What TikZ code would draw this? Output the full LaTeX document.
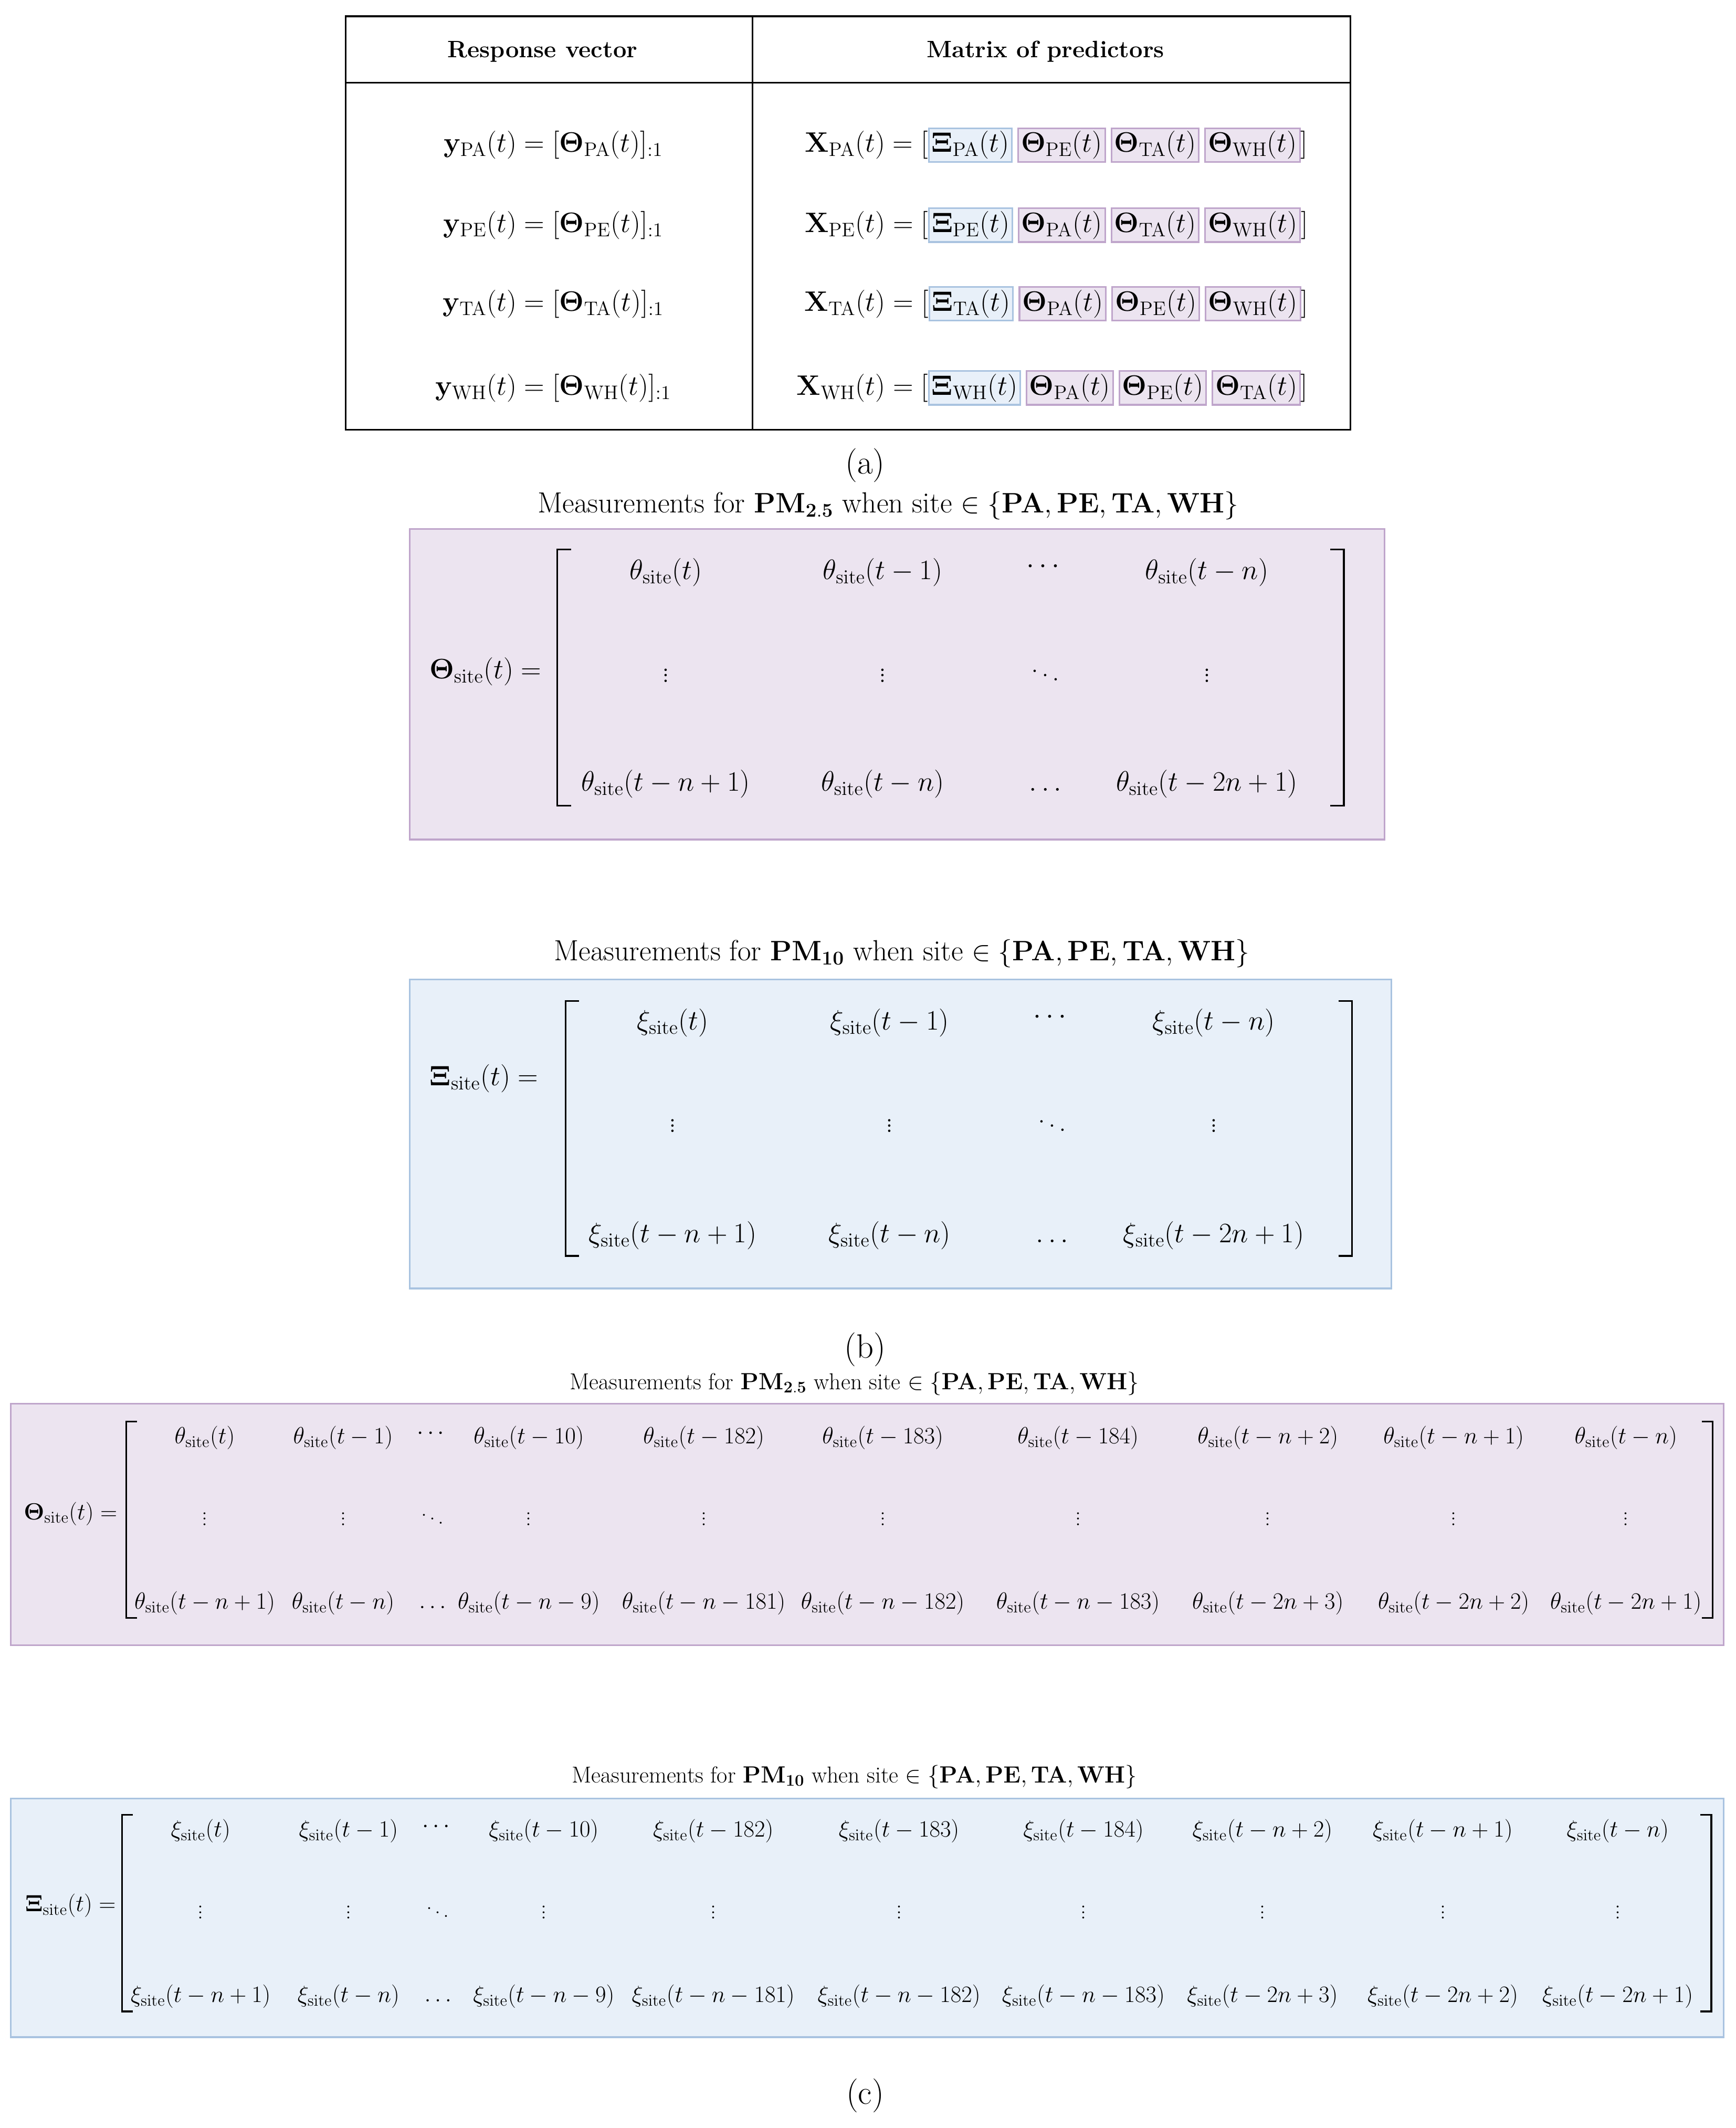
\documentclass[tikz,border=0pt]{standalone}
\usepackage{amsmath,amssymb}
\usetikzlibrary{positioning}
\definecolor{lavfill}{HTML}{ECE4F0}
\definecolor{lavline}{HTML}{BFA5CB}
\definecolor{bluefill}{HTML}{E8F0F9}
\definecolor{blueline}{HTML}{A9C3E0}
\newcommand{\pbox}[1]{\fcolorbox{lavline}{lavfill}{$#1$}}
\newcommand{\bbox}[1]{\fcolorbox{blueline}{bluefill}{$#1$}}
\newcommand{\Th}[1]{\mathbf{\Theta}_{\mathrm{#1}}(t)}
\newcommand{\Xs}[1]{\mathbf{\Xi}_{\mathrm{#1}}(t)}
\newcommand{\sitelist}{\{\mathbf{PA},\mathbf{PE},\mathbf{TA},\mathbf{WH}\}}
\tikzset{
  big/.style={font=\fontsize{21}{24}\selectfont, inner sep=0pt},
  mid/.style={font=\fontsize{21.5}{25}\selectfont, inner sep=0pt},
  small/.style={font=\fontsize{17}{20}\selectfont, inner sep=0pt},
  lavbox/.style={fill=lavfill, draw=lavline, line width=1.2pt},
  bluebox/.style={fill=bluefill, draw=blueline, line width=1.2pt},
  brack/.style={line width=1.3pt}
}
\begin{document}
\begin{tikzpicture}[x=1pt, y=-1pt]
\useasboundingbox (0,0) rectangle (1280,1569);
\setlength{\fboxsep}{1.5pt}\setlength{\fboxrule}{1.2pt}

% (a) table
\draw[line width=1.2pt] (255,12) rectangle (996,317);
\draw[line width=1.2pt] (255,61) -- (996,61);
\draw[line width=1.2pt] (555,12) -- (555,317);
\node[big, font=\fontsize{17.5}{20}\selectfont\bfseries] (hresp) at (400,38) {Response vector};
\node[big, font=\fontsize{17.5}{20}\selectfont\bfseries] (hpred) at (771,38) {Matrix of predictors};
\foreach \s/\yy in {PA/107, PE/166, TA/224, WH/286}
  \node[big] (y\s) at (408,\yy) {$\mathbf{y}_{\mathrm{\s}}(t)=[\Th{\s}]_{:1}$};
\node[big] (xPA) at (779,107) {$\mathbf{X}_{\mathrm{PA}}(t)=[\bbox{\Xs{PA}}\,\pbox{\Th{PE}}\,\pbox{\Th{TA}}\,\pbox{\Th{WH}}]$};
\node[big] (xPE) at (779,166) {$\mathbf{X}_{\mathrm{PE}}(t)=[\bbox{\Xs{PE}}\,\pbox{\Th{PA}}\,\pbox{\Th{TA}}\,\pbox{\Th{WH}}]$};
\node[big] (xTA) at (779,224) {$\mathbf{X}_{\mathrm{TA}}(t)=[\bbox{\Xs{TA}}\,\pbox{\Th{PA}}\,\pbox{\Th{PE}}\,\pbox{\Th{WH}}]$};
\node[big] (xWH) at (776,286) {$\mathbf{X}_{\mathrm{WH}}(t)=[\bbox{\Xs{WH}}\,\pbox{\Th{PA}}\,\pbox{\Th{PE}}\,\pbox{\Th{TA}}]$};
\node[mid, font=\fontsize{25}{28}\selectfont] (capa) at (638,343) {(a)};

% (b) theta
\node[mid] (tb1) at (655,373) {Measurements for $\mathbf{PM_{2.5}}$ when site $\in\sitelist$};
\draw[lavbox] (302,390) rectangle (1021,619);
\node[mid] (lb1) at (358,495) {$\mathbf{\Theta}_{\mathrm{site}}(t)=$};
\draw[brack] (421,405) -- (411,405) -- (411,594) -- (421,594);
\draw[brack] (981,405) -- (991,405) -- (991,594) -- (981,594);
\foreach \x/\a/\b in {491/t/t-n+1, 651/t-1/t-n, 890/t-n/t-2n+1} {
  \node[mid] at (\x,422) {$\theta_{\mathrm{site}}(\a)$};
  \node[mid] at (\x,495) {$\vdots$};
  \node[mid] at (\x,578) {$\theta_{\mathrm{site}}(\b)$};
}
\node[mid] at (771,418) {$\cdots$};
\node[mid] at (771,495) {$\ddots$};
\node[mid] at (771,582) {$\ldots$};

% (b) xi
\node[mid] (tb2) at (665,703) {Measurements for $\mathbf{PM_{10}}$ when site $\in\sitelist$};
\draw[bluebox] (302,722) rectangle (1026,950);
\node[mid] (lb2) at (357,795) {$\mathbf{\Xi}_{\mathrm{site}}(t)=$};
\draw[brack] (427,738) -- (417,738) -- (417,926) -- (427,926);
\draw[brack] (987,738) -- (997,738) -- (997,926) -- (987,926);
\foreach \x/\a/\b in {496/t/t-n+1, 656/t-1/t-n, 895/t-n/t-2n+1} {
  \node[mid] at (\x,754) {$\xi_{\mathrm{site}}(\a)$};
  \node[mid] at (\x,827) {$\vdots$};
  \node[mid] at (\x,911) {$\xi_{\mathrm{site}}(\b)$};
}
\node[mid] at (776,750) {$\cdots$};
\node[mid] at (776,827) {$\ddots$};
\node[mid] at (776,915) {$\ldots$};
\node[mid, font=\fontsize{25}{28}\selectfont] (capb) at (638,995) {(b)};

% (c) theta
\node[small] (tc1) at (630,1020) {Measurements for $\mathbf{PM_{2.5}}$ when site $\in\sitelist$};
\draw[lavbox] (8,1035) rectangle (1271,1213);
\node[small] (lc1) at (52,1116) {$\mathbf{\Theta}_{\mathrm{site}}(t)=$};
\draw[brack] (101,1048) -- (93,1048) -- (93,1193) -- (101,1193);
\draw[brack] (1255,1048) -- (1263,1048) -- (1263,1193) -- (1255,1193);
\foreach \x/\a/\b in {151/t/t-n+1, 253/t-1/t-n, 390/t-10/t-n-9, 519/t-182/t-n-181,
  651/t-183/t-n-182, 795/t-184/t-n-183, 935/t-n+2/t-2n+3, 1072/t-n+1/t-2n+2, 1199/t-n/t-2n+1} {
  \node[small] at (\x,1060) {$\theta_{\mathrm{site}}(\a)$};
  \node[small] at (\x,1117) {$\vdots$};
  \node[small] at (\x,1182) {$\theta_{\mathrm{site}}(\b)$};
}
\node[small] at (319,1057) {$\cdots$};
\node[small] at (319,1117) {$\ddots$};
\node[small] at (319,1185) {$\ldots$};

% (c) xi
\node[small] (tc2) at (630,1310) {Measurements for $\mathbf{PM_{10}}$ when site $\in\sitelist$};
\draw[bluebox] (8,1326) rectangle (1271,1502);
\node[small] (lc2) at (52,1405) {$\mathbf{\Xi}_{\mathrm{site}}(t)=$};
\draw[brack] (98,1338) -- (90,1338) -- (90,1483) -- (98,1483);
\draw[brack] (1254,1338) -- (1262,1338) -- (1262,1483) -- (1254,1483);
\foreach \x/\a/\b in {148/t/t-n+1, 257/t-1/t-n, 401/t-10/t-n-9, 526/t-182/t-n-181,
  663/t-183/t-n-182, 799/t-184/t-n-183, 931/t-n+2/t-2n+3, 1064/t-n+1/t-2n+2, 1193/t-n/t-2n+1} {
  \node[small] at (\x,1350) {$\xi_{\mathrm{site}}(\a)$};
  \node[small] at (\x,1407) {$\vdots$};
  \node[small] at (\x,1472) {$\xi_{\mathrm{site}}(\b)$};
}
\node[small] at (323,1347) {$\cdots$};
\node[small] at (323,1407) {$\ddots$};
\node[small] at (323,1475) {$\ldots$};
\node[mid, font=\fontsize{25}{28}\selectfont] (capc) at (638,1545) {(c)};
\end{tikzpicture}
\end{document}
